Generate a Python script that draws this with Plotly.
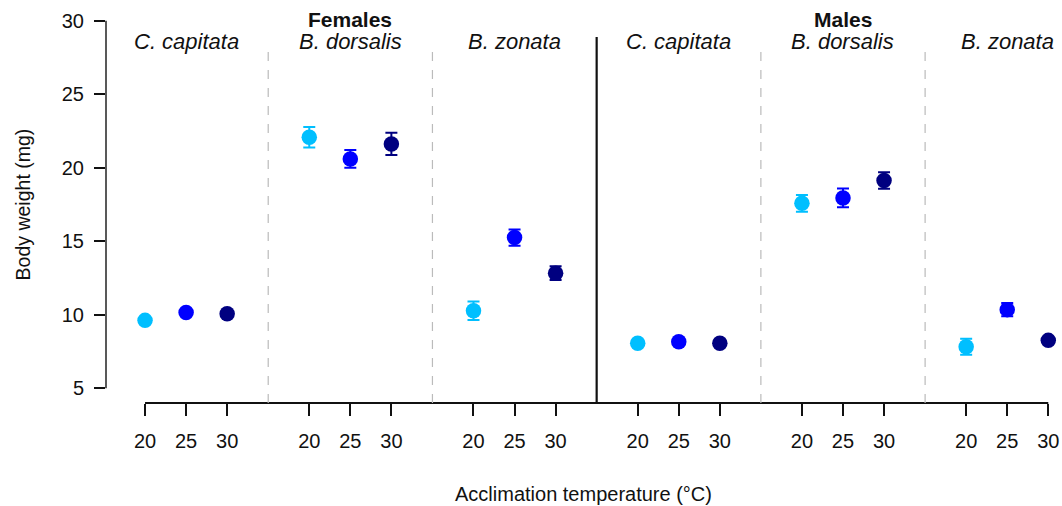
import plotly.graph_objects as go

# ---- data ----
sexes = ["Females", "Males"]
species = ["C. capitata", "B. dorsalis", "B. zonata"]
temps = ["20", "25", "30"]
colors = ["#00BFFF", "#0000FF", "#000080"]

# body weight (mg), rows: sex x species (F-Cc, F-Bd, F-Bz, M-Cc, M-Bd, M-Bz), cols: temp 20/25/30
mean_20 = [9.62, 22.07, 10.28, 8.06, 17.58, 7.83]
mean_25 = [10.15, 20.60, 15.25, 8.17, 17.95, 10.35]
mean_30 = [10.07, 21.62, 12.83, 8.07, 19.14, 8.26]
se_20 = [0.15, 0.70, 0.63, 0.15, 0.57, 0.54]
se_25 = [0.15, 0.60, 0.55, 0.15, 0.64, 0.45]
se_30 = [0.15, 0.76, 0.47, 0.15, 0.56, 0.20]

means = [mean_20, mean_25, mean_30]
ses = [se_20, se_25, se_30]

n_groups = len(sexes) * len(species)
gap = 4  # positions per group (3 temps + 1 gap)

def pos(g, t):
    return g * gap + t + 1

fig = go.Figure()
for t, temp in enumerate(temps):
    fig.add_trace(go.Scatter(
        x=[pos(g, t) for g in range(n_groups)],
        y=means[t],
        mode="markers",
        marker=dict(color=colors[t], size=15.5, line=dict(width=0)),
        error_y=dict(type="data", array=ses[t], visible=True,
                     color=colors[t], thickness=2, width=6),
        name=temp + " °C",
        showlegend=False,
    ))

FONT = "Liberation Sans, Arial, sans-serif"
tickvals = [pos(g, t) for g in range(n_groups) for t in range(len(temps))]
ticktext = [temps[t] for g in range(n_groups) for t in range(len(temps))]

shapes = []
# x-axis line (spanning first to last tick)
shapes.append(dict(type="line", xref="x", yref="paper", x0=tickvals[0], x1=tickvals[-1],
                   y0=0, y1=0, line=dict(color="#111", width=2)))
# y-axis line
shapes.append(dict(type="line", xref="paper", yref="y", x0=0, x1=0, y0=5, y1=30,
                   line=dict(color="#222", width=1.5)))
# group separators
for g in range(1, n_groups):
    xsep = g * gap
    if g == len(species):
        shapes.append(dict(type="line", xref="x", yref="y", x0=xsep, x1=xsep, y0=4.0, y1=28.9,
                           line=dict(color="#111", width=2.2)))
    else:
        shapes.append(dict(type="line", xref="x", yref="y", x0=xsep, x1=xsep, y0=4.0, y1=28.0,
                           line=dict(color="#bbbbbb", width=1.2, dash="dash")))

annotations = []
for g in range(n_groups):
    sp = species[g % len(species)]
    annotations.append(dict(x=pos(g, 1), y=28.56, xref="x", yref="y", text="<i>" + sp + "</i>",
                            showarrow=False, font=dict(family=FONT, size=22, color="#111")))
for s, sex in enumerate(sexes):
    annotations.append(dict(x=pos(s * len(species) + 1, 1), y=30.1, xref="x", yref="y",
                            text="<b>" + sex + "</b>", showarrow=False,
                            font=dict(family=FONT, size=21, color="#111")))
annotations.append(dict(x=0.5, y=-0.225, xref="paper", yref="paper",
                        text="Acclimation temperature (°C)", showarrow=False,
                        xanchor="center", yanchor="middle",
                        font=dict(family=FONT, size=20, color="#111")))
annotations.append(dict(x=-0.087, y=17.5, xref="paper", yref="y",
                        text="Body weight (mg)", showarrow=False, textangle=-90,
                        xanchor="center", yanchor="middle",
                        font=dict(family=FONT, size=19.5, color="#111")))

fig.update_layout(
    width=1062, height=506,
    margin=dict(l=106, r=1, t=0, b=103),
    plot_bgcolor="white", paper_bgcolor="white",
    xaxis=dict(range=[0.049, 23.31], tickvals=tickvals, ticktext=ticktext,
               ticks="outside", ticklen=12, tickwidth=1.5, tickcolor="#111",
               showgrid=False, zeroline=False, showline=False,
               tickfont=dict(family=FONT, size=20, color="#111"),
               ticklabelstandoff=8),
    yaxis=dict(range=[4.0, 31.41], tickvals=[5, 10, 15, 20, 25, 30],
               ticks="outside", ticklen=11, tickwidth=1.5, tickcolor="#111",
               showgrid=False, zeroline=False, showline=False,
               tickfont=dict(family=FONT, size=20, color="#111"),
               ticklabelstandoff=6),
    shapes=shapes,
    annotations=annotations,
)

fig.write_html("out.html")
